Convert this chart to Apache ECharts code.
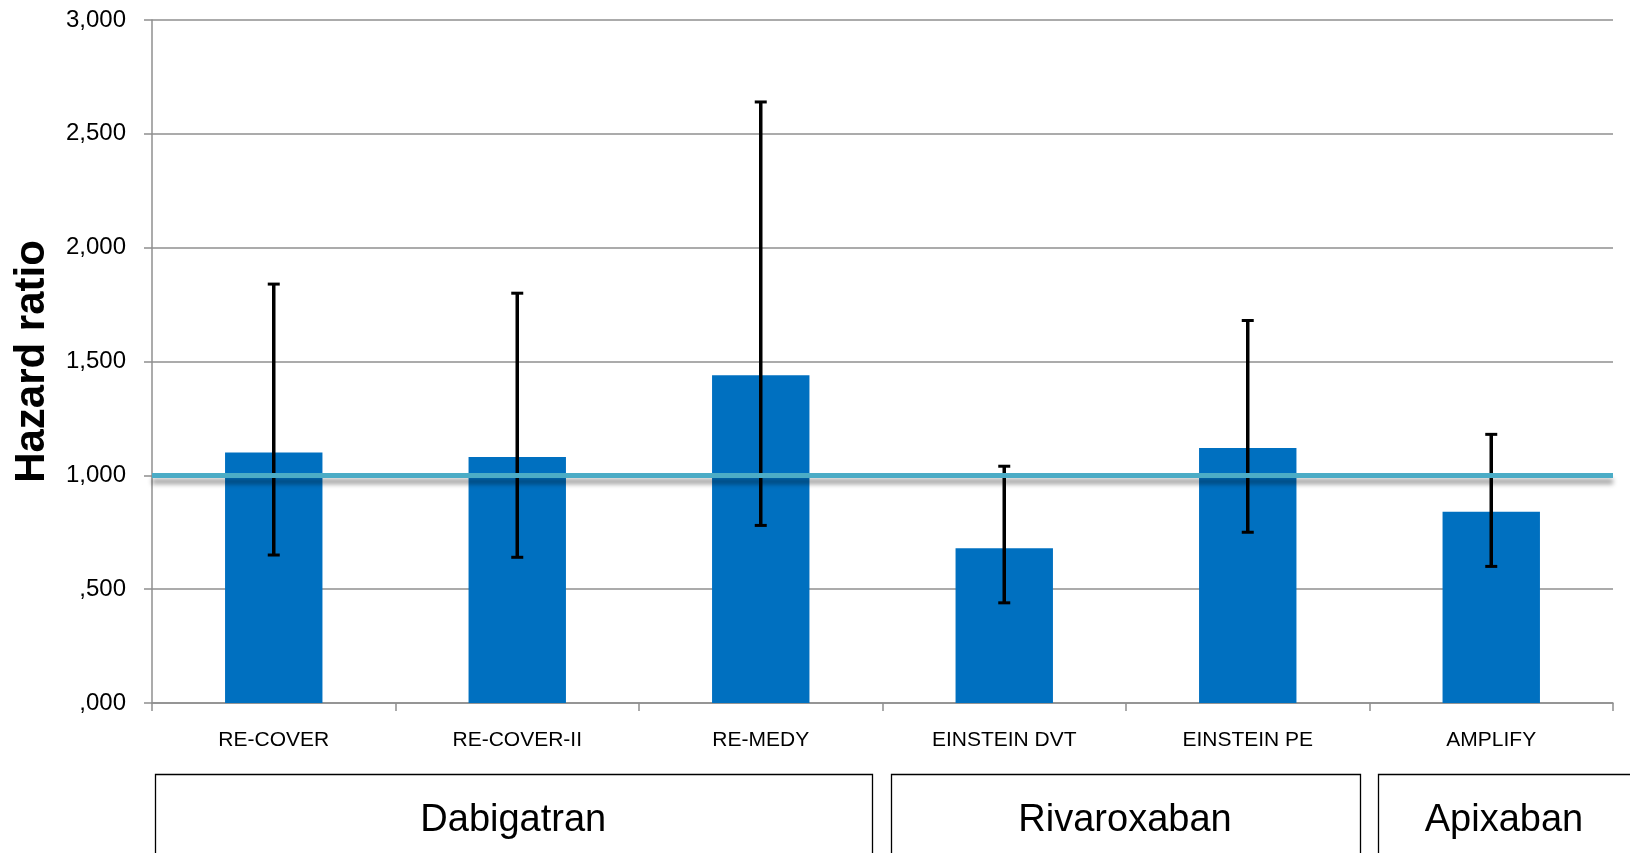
<!DOCTYPE html>
<html>
<head>
<meta charset="utf-8">
<script src="https://cdn.jsdelivr.net/npm/echarts@6/dist/echarts.min.js"></script>
<style>
html,body{margin:0;padding:0;background:#fff;}
#chart{width:1630px;height:853px;}
</style>
</head>
<body>
<div id="chart"></div>
<script>
// ---- data ----
const categories = ['RE-COVER', 'RE-COVER-II', 'RE-MEDY', 'EINSTEIN DVT', 'EINSTEIN PE', 'AMPLIFY'];
const hazardRatio = [1.10, 1.08, 1.44, 0.68, 1.12, 0.84];
const ciLow = [0.65, 0.64, 0.78, 0.44, 0.75, 0.60];
const ciHigh = [1.84, 1.80, 2.64, 1.04, 1.68, 1.18];
const referenceValue = 1.0;
const yTickLabels = [',000', ',500', '1,000', '1,500', '2,000', '2,500', '3,000'];
const groupNames = ['Dabigatran', 'Rivaroxaban', 'Apixaban'];
const groupStart = [0, 3, 5];
const groupEnd = [2, 4, 5];

const FONT = 'Liberation Sans, Arial, sans-serif';
const GRAY = '#8f8f8f';

const chart = echarts.init(document.getElementById('chart'), null, {renderer: 'canvas'});

const errorData = categories.map((c, i) => [i, ciLow[i], ciHigh[i]]);

chart.setOption({
  animation: false,
  backgroundColor: '#ffffff',
  grid: {left: 152, right: 17, top: 20, bottom: 150, containLabel: false},
  xAxis: {
    type: 'category',
    data: categories,
    boundaryGap: true,
    axisLine: {show: true, lineStyle: {color: GRAY, width: 1.5}},
    axisTick: {show: true, length: 8, alignWithLabel: false, lineStyle: {color: GRAY, width: 1.5}},
    axisLabel: {color: '#000', fontFamily: FONT, fontSize: 21, margin: 27, interval: 0},
    splitLine: {show: false}
  },
  yAxis: {
    type: 'value',
    min: 0, max: 3, interval: 0.5,
    name: 'Hazard ratio',
    nameLocation: 'middle',
    nameGap: 99,
    nameTextStyle: {color: '#000', fontFamily: FONT, fontSize: 42, fontWeight: 'bold'},
    axisLine: {show: true, lineStyle: {color: GRAY, width: 1.5}},
    axisTick: {show: true, length: 8, lineStyle: {color: GRAY, width: 1.5}},
    axisLabel: {
      color: '#000', fontFamily: FONT, fontSize: 24, margin: 26,
      formatter: v => yTickLabels[Math.round(v / 0.5)]
    },
    splitLine: {show: true, lineStyle: {color: GRAY, width: 1.5}}
  },
  series: [
    {
      type: 'bar',
      data: hazardRatio,
      barWidth: '40%',
      itemStyle: {color: '#0070C0'},
      z: 2,
      silent: true,
      markLine: {
        silent: true,
        symbol: ['none', 'none'],
        label: {show: false},
        z: 5,
        data: [{yAxis: referenceValue}],
        lineStyle: {
          color: '#4BACC6', width: 5, type: 'solid',
          shadowColor: 'rgba(0,0,0,0.4)', shadowOffsetY: 6, shadowBlur: 5
        },
        emphasis: {disabled: true}
      }
    },
    {
      type: 'custom',
      z: 4,
      silent: true,
      data: errorData,
      renderItem: function (params, api) {
        const idx = api.value(0);
        const lo = api.coord([idx, api.value(1)]);
        const hi = api.coord([idx, api.value(2)]);
        const capHalf = 6;
        const st = {stroke: '#000', lineWidth: 3.5};
        const capSt = {stroke: '#000', lineWidth: 3};
        return {
          type: 'group',
          children: [
            {type: 'line', shape: {x1: lo[0], y1: lo[1], x2: hi[0], y2: hi[1]}, style: st},
            {type: 'line', shape: {x1: lo[0] - capHalf, y1: lo[1], x2: lo[0] + capHalf, y2: lo[1]}, style: capSt},
            {type: 'line', shape: {x1: hi[0] - capHalf, y1: hi[1], x2: hi[0] + capHalf, y2: hi[1]}, style: capSt}
          ]
        };
      }
    }
  ]
});

// ---- group boxes under the category axis, positioned from the axis scale ----
function drawGroups() {
  const c0 = chart.convertToPixel({xAxisIndex: 0}, 0);
  const c1 = chart.convertToPixel({xAxisIndex: 0}, 1);
  const band = c1 - c0;
  const leftInset = [3, 8, 8];
  const rightInset = [11, 10, -40];
  const boxTop = 774;
  const elements = [];
  groupNames.forEach((name, g) => {
    const sx = chart.convertToPixel({xAxisIndex: 0}, groupStart[g]) - band / 2 + leftInset[g];
    const ex = chart.convertToPixel({xAxisIndex: 0}, groupEnd[g]) + band / 2 - rightInset[g];
    elements.push({
      type: 'rect',
      shape: {x: Math.round(sx) + 0.5, y: boxTop + 0.5, width: Math.round(ex - sx), height: 140},
      style: {fill: 'none', stroke: '#000', lineWidth: 1.3},
      silent: true
    });
    const textCx = g === 2 ? 1504 : (sx + ex) / 2;
    elements.push({
      type: 'text',
      x: textCx, y: boxTop + 47,
      style: {text: name, fill: '#000', font: '38px ' + FONT, textAlign: 'center', textVerticalAlign: 'middle'},
      silent: true
    });
  });
  chart.setOption({graphic: elements});
}
drawGroups();
</script>
</body>
</html>
